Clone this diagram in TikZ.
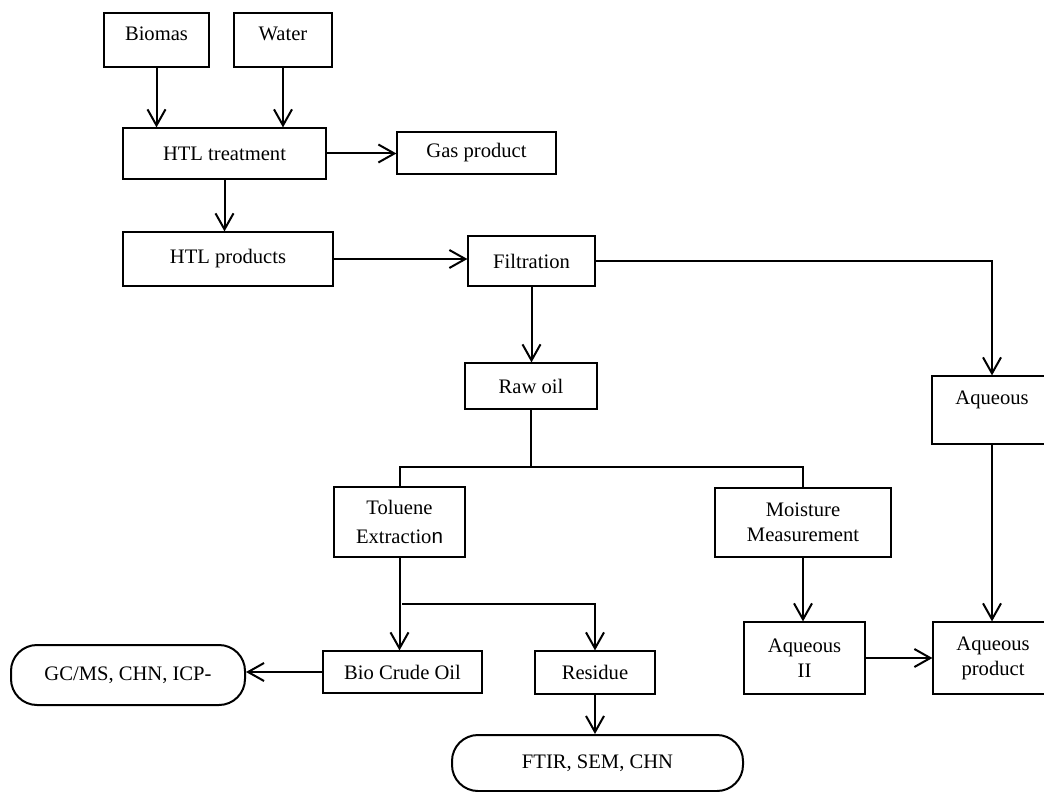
\documentclass[tikz,border=0pt]{standalone}
\usepackage{fontspec}
\setmainfont{Liberation Serif}
\setsansfont{Liberation Sans}
\usetikzlibrary{arrows.meta}

\tikzset{
  box/.style={draw, line width=0.6pt, align=center, inner sep=1pt,
    font=\fontsize{10.3}{12.5}\selectfont},
  pill/.style={box, rounded corners=13pt, line width=1pt},
  flow/.style={line width=1pt, -{Straight Barb[length=8pt,width=9pt,line width=1pt]}},
  link/.style={line width=1pt}
}

\begin{document}
\begin{tikzpicture}[x=0.5pt, y=-0.5pt]
    \useasboundingbox (0,0) rectangle (1044,792);
    \clip (0,0) rectangle (1044,792);

    % feed
    \node[box, minimum width=52.5pt, minimum height=27pt] (biomas) at (156.5,40) {Biomas\\[-6.5pt]~};
    \node[box, minimum width=49pt, minimum height=27pt] (water) at (283,40) {Water\\[-6.5pt]~};
    \node[box, minimum width=101.5pt, minimum height=25.5pt] (htl) at (224.5,153.5) {HTL treatment};
    \node[box, minimum width=79.5pt, minimum height=21pt] (gas) at (476.5,153) {Gas product};
    \node[box, minimum width=105pt, minimum height=27pt] (htlprod) at (228,259) {HTL products};
    \node[box, minimum width=63.5pt, minimum height=25pt] (filt) at (531.5,261) {Filtration};

    % separation
    \node[box, minimum width=66pt, minimum height=23pt] (rawoil) at (531,386) {Raw oil};
    \node[box, minimum width=60pt, minimum height=34pt] (aq) at (992,410) {Aqueous\\~};
    \node[box, minimum width=65.5pt, minimum height=35pt] (tol) at (399.5,522) {Toluene\\[2pt]Extractio{\sffamily n}};
    \node[box, minimum width=88pt, minimum height=34.5pt] (moist) at (803,522.5) {Moisture\\Measurement};

    % products
    \node[box, minimum width=79.5pt, minimum height=21pt] (bio) at (402.5,672) {Bio Crude Oil};
    \node[box, minimum width=60pt, minimum height=21.5pt] (res) at (595,672.5) {Residue};
    \node[box, minimum width=60.5pt, minimum height=36pt] (aq2) at (804.5,658) {Aqueous\\II};
    \node[box, minimum width=60pt, minimum height=36pt] (aqprod) at (993,658) {Aqueous\\product};

    % analysis
    \node[pill, minimum width=117pt, minimum height=30pt] (gcms) at (128,675) {GC/MS, CHN, ICP-};
    \node[pill, minimum width=145.5pt, minimum height=28pt] (ftir) at (597.5,763) {FTIR, SEM, CHN};

    \coordinate (split1) at (529,467);
    \coordinate (split2) at (402,604);

    \draw[flow] (biomas.south) -- (biomas.south |- htl.north);
    \draw[flow] (water.south) -- (water.south |- htl.north);
    \draw[flow] (htl.east) -- (htl.east -| gas.west);
    \draw[flow] (htl.south) -- (htl.south |- htlprod.north);
    \draw[flow] (htlprod.east) -- (htlprod.east -| filt.west);
    \draw[flow] (filt.south) -- (filt.south |- rawoil.north);
    \draw[flow] (filt.east) -| (aq.north);
    \draw[link] (rawoil.south) -- (rawoil.south |- split1);
    \draw[link] (tol.north) |- (split1) -| (moist.north);
    \draw[flow] (tol.south) -- (tol.south |- bio.north);
    \draw[flow] (split2) -| (res.north);
    \draw[flow] (bio.west) -- (bio.west -| gcms.east);
    \draw[flow] (res.south) -- (res.south |- ftir.north);
    \draw[flow] (moist.south) -- (moist.south |- aq2.north);
    \draw[flow] (aq.south) -- (aq.south |- aqprod.north);
    \draw[flow] (aq2.east) -- (aqprod.west);
\end{tikzpicture}
\end{document}
